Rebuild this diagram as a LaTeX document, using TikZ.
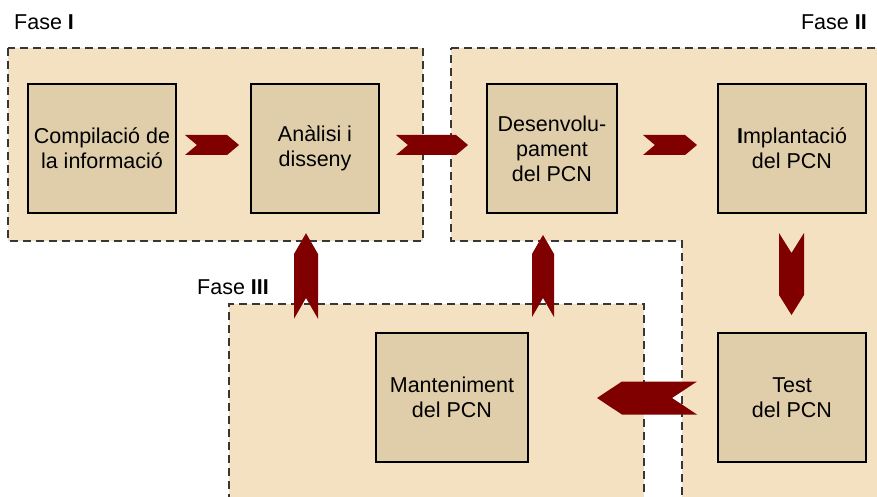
\documentclass[tikz,border=0pt]{standalone}
\usepackage{fontspec}
\setmainfont{Liberation Sans}
\usetikzlibrary{shapes.symbols}
\definecolor{fasefill}{RGB}{244,225,194}
\definecolor{etapafill}{RGB}{224,205,170}
\definecolor{fletxa}{RGB}{128,0,0}
\definecolor{vora}{RGB}{55,55,55}
\tikzset{
	fase/.style={
		draw=vora,
		fill=fasefill,
		line width=1.5pt,
		dash pattern=on 8pt off 5pt},
	etapa/.style={
		rectangle,
		draw=black,
		fill=etapafill,
		line width=2pt,
		align=center,
		inner sep=0pt,
		font=\fontsize{21.5}{25}\selectfont},
	fl/.style={
		signal,
		fill=fletxa,
		draw=none,
		inner sep=0pt},
	etiq/.style={
		font=\fontsize{21.5}{25}\selectfont,
		inner sep=0pt}
}
\begin{document}
\begin{tikzpicture}[x=1pt,y=1pt,yscale=-1,xscale=1]
\useasboundingbox (0,0) rectangle (877,497);

% Fases
\draw[fase] (8,48) rectangle (423,241);
\draw[fase] (451,48) -- (882,48) -- (882,502) -- (682,502) -- (682,241) -- (451,241) -- cycle;
\draw[fase] (229,502) -- (229,304) -- (644,304) -- (644,502);

% Text Node
\node[etiq, anchor=west] (f1) at (14,22) {Fase \textbf{I}};
% Text Node
\node[etiq, anchor=east] (f2) at (867,22) {Fase \textbf{II}};
% Text Node
\node[etiq, anchor=west] (f3) at (197,287) {Fase \textbf{III}};

% Etapes
\node[etapa, minimum width=148pt, minimum height=129pt] (compil) at (102,148.5) {Compilació de\\la informació};
\node[etapa, minimum width=128pt, minimum height=129pt] (analisi) at (315,148.5) {Anàlisi i\\disseny};
\node[etapa, minimum width=130pt, minimum height=129pt] (desenv) at (552,148.5) {Desenvolu-\\pament\\del PCN};
\node[etapa, minimum width=148pt, minimum height=129pt] (implant) at (792,148.5) {\textbf{I}mplantació\\del PCN};
\node[etapa, minimum width=148pt, minimum height=129pt] (test) at (792,397.5) {Test\\del PCN};
\node[etapa, minimum width=152pt, minimum height=129pt] (mant) at (452,397.5) {Manteniment\\del PCN};

% Fletxes
\node[fl, signal to=east, signal from=west, signal pointer angle=80, minimum width=54pt, minimum height=20pt] (a1) at (212,145) {};
\node[fl, signal to=east, signal from=west, signal pointer angle=80, minimum width=72pt, minimum height=20pt] (a2) at (432,145) {};
\node[fl, signal to=east, signal from=west, signal pointer angle=80, minimum width=54pt, minimum height=20pt] (a3) at (670,145) {};
\node[fl, signal to=south, signal from=north, signal pointer angle=64, minimum width=25pt, minimum height=42pt] (a4) at (791.5,274) {};
\node[fl, signal to=west, signal from=east, signal pointer angle=67, minimum width=100pt, minimum height=33pt] (a5) at (647,398) {};
\node[fl, signal to=north, signal from=south, signal pointer angle=60, minimum width=24pt, minimum height=44pt] (a6) at (306,276) {};
\node[fl, signal to=north, signal from=south, signal pointer angle=60, minimum width=22pt, minimum height=44pt] (a7) at (543,276) {};
\end{tikzpicture}
\end{document}
